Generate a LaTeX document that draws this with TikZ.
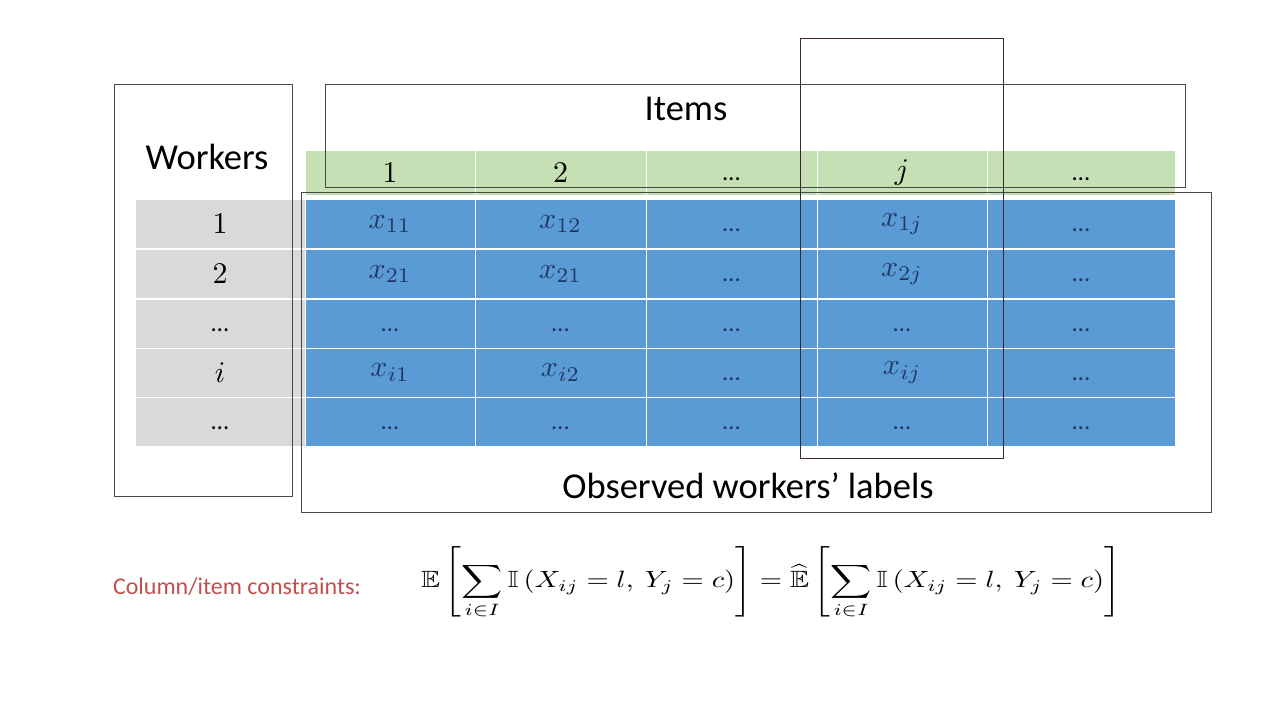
\documentclass[tikz,border=0pt]{standalone}
\usepackage{fix-cm}
\usepackage{amssymb}
\usepackage{graphicx}
\usepackage{fontspec}
\setmainfont{Carlito}
\definecolor{cellblue}{RGB}{91,155,213}
\definecolor{cellgray}{RGB}{217,217,217}
\definecolor{cellgreen}{RGB}{197,224,180}
\definecolor{cellink}{RGB}{31,56,100}
\definecolor{boxline}{RGB}{70,70,70}
\definecolor{colline}{RGB}{60,38,50}
\definecolor{notered}{RGB}{192,80,77}
\newcommand{\cm}[1]{\scalebox{3}{$#1$}}
\newcommand{\dd}{\mbox{\fontsize{8.3}{10}\selectfont\raisebox{-2.5pt}[0pt][0pt]{…}}}
\begin{document}
\begin{tikzpicture}[x=1pt,y=-1pt,line join=round,
  cell/.style={minimum height=49pt,inner sep=0pt,draw=white,line width=1pt,
    fill=cellblue,text=cellink},
  wcell/.style={cell,fill=cellgray,text=black,minimum width=170pt},
  hcell/.style={cell,fill=cellgreen,text=black,minimum height=45pt},
  frame/.style={draw=boxline,line width=0.8pt},
  bigtext/.style={font=\fontsize{36.5}{42}\selectfont}]
\useasboundingbox (0,0) rectangle (1280,720);
% header strip
\foreach \c/\xc/\w/\t in {1/390/170/1,2/560.5/171/2,3/731.5/171/\dd,4/902/170/j,5/1081/188/\dd}
  \node[hcell,minimum width=\w pt] (h-\c) at (\xc,173) {\cm{\t}};
% worker column and observed cells
\foreach \r/\yc/\lab/\ca/\cb/\cj in {1/224/1/x_{11}/x_{12}/x_{1j},
    2/274/2/x_{21}/x_{21}/x_{2j},
    3/323.5/\dd/\dd/\dd/\dd,
    4/372.5/i/x_{i1}/x_{i2}/x_{ij},
    5/421.5/\dd/\dd/\dd/\dd}{
  \node[wcell] (w-\r) at (220,\yc) {\cm{\lab}};
  \node[cell,minimum width=170pt] (c-\r-1) at (390,\yc) {\cm{\ca}};
  \node[cell,minimum width=171pt] (c-\r-2) at (560.5,\yc) {\cm{\cb}};
  \node[cell,minimum width=171pt] (c-\r-3) at (731.5,\yc) {\cm{\dd}};
  \node[cell,minimum width=170pt] (c-\r-4) at (902,\yc) {\cm{\cj}};
  \node[cell,minimum width=188pt] (c-\r-5) at (1081,\yc) {\cm{\dd}};
}
% frames
\draw[frame] (114,84) rectangle (292,496);
\draw[frame] (325,84) rectangle (1185,187);
\draw[frame] (301,192) rectangle (1211,512);
\draw[frame,draw=colline] (800,38) rectangle (1003,458);
\node[bigtext] (workers) at (207,157) {Workers};
\node[bigtext] (items) at (686,109) {Items};
\node[bigtext] (observed) at (748,486) {Observed workers’ labels};
% constraint
\node[text=notered,font=\fontsize{24}{28}\selectfont] (note) at (237,587) {Column/item constraints:};
\node (eq) at (771,583)
  {\scalebox{2.86}[2.35]{$\displaystyle \mathbb{E}\left[\sum_{i\in I}\mathbb{I}\left(X_{ij}=l,\ Y_j=c\right)\right]
   =\widehat{\mathbb{E}}\left[\sum_{i\in I}\mathbb{I}\left(X_{ij}=l,\ Y_j=c\right)\right]$}};
\end{tikzpicture}
\end{document}
